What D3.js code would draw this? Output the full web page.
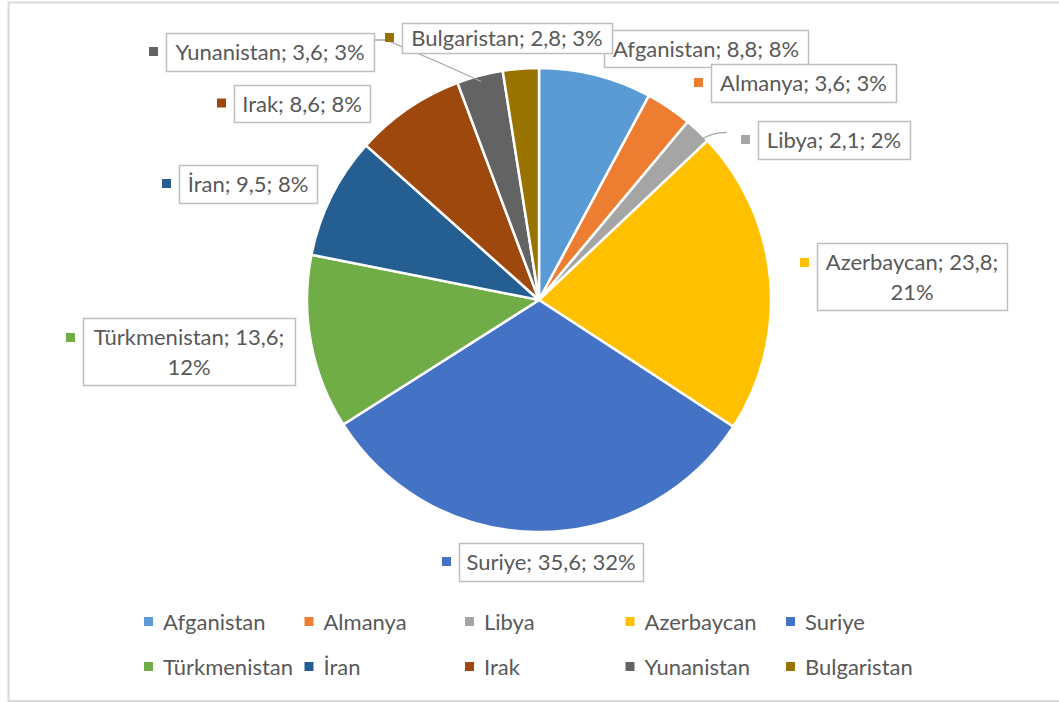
<!DOCTYPE html>
<html>
<head>
<meta charset="utf-8">
<script src="https://cdn.jsdelivr.net/npm/d3@7"></script>
<style>
  body { margin: 0; background: #fff; }
  text { font-family: Lato, "Open Sans", sans-serif; fill: #595959; }
</style>
</head>
<body>
<div class="canvas"></div>
<script>
// data
const countries = ["Afganistan", "Almanya", "Libya", "Azerbaycan", "Suriye", "Türkmenistan", "İran", "Irak", "Yunanistan", "Bulgaristan"];
const values = [8.8, 3.6, 2.1, 23.8, 35.6, 13.6, 9.5, 8.6, 3.6, 2.8];
const percents = ["8%", "3%", "2%", "21%", "32%", "12%", "8%", "8%", "3%", "3%"];
const colors = ["#5B9BD5", "#ED7D31", "#A5A5A5", "#FFC000", "#4472C4", "#70AD47", "#255E91", "#9E480E", "#636363", "#997300"];

// dimensions
const w = 1059;
const h = 702;
const cx = 539, cy = 300, radius = 232;

// label box layout
const labelLayout = [
  { x: 604, y: 30, w: 204, h: 37, two: false },
  { x: 711, y: 64, w: 185, h: 38, two: false },
  { x: 758, y: 121, w: 152, h: 38, two: false },
  { x: 817, y: 243, w: 190, h: 67, two: true },
  { x: 459, y: 543, w: 184, h: 38, two: false },
  { x: 83, y: 318, w: 212, h: 67, two: true },
  { x: 179, y: 165, w: 138, h: 38, two: false },
  { x: 234, y: 85, w: 136, h: 37, two: false },
  { x: 166, y: 33, w: 208, h: 38, two: false },
  { x: 402, y: 23, w: 210, h: 30, two: false },
];
const fontSize = 22;

const svg = d3.select(".canvas").append("svg").attr("width", w).attr("height", h);

// chart border
svg.append("rect")
  .attr("x", 8.5).attr("y", 2.5)
  .attr("width", w).attr("height", h - 3.5)
  .attr("fill", "white")
  .attr("stroke", "#d9d9d9")
  .attr("stroke-width", 2);

const pie = d3.pie().sort(null).value((d) => d);
const arc = d3.arc().innerRadius(0).outerRadius(radius);
const arcs = pie(values);

const graph = svg.append("g").attr("transform", `translate(${cx}, ${cy})`);
graph.selectAll("path")
  .data(arcs)
  .enter()
  .append("path")
  .attr("d", arc)
  .attr("fill", (d, i) => colors[i])
  .attr("stroke", "white")
  .attr("stroke-width", 2.5);

// leader lines (Libya, Yunanistan)
const leaderArc = d3.arc().innerRadius(radius - 6).outerRadius(radius - 6);
const libyaPt = leaderArc.centroid(arcs[2]);
svg.append("path")
  .attr("d", `M${cx + libyaPt[0] + 8},${cy + libyaPt[1] + 4} Q${cx + libyaPt[0] + 18},${cy + libyaPt[1] - 3} ${cx + libyaPt[0] + 33},${cy + libyaPt[1] - 3}`)
  .attr("fill", "none").attr("stroke", "#a6a6a6").attr("stroke-width", 1.3);
const yunPt = leaderArc.centroid(arcs[8]);
svg.append("path")
  .attr("d", `M374,40 L386,40 L438,62 L${cx + yunPt[0]},${cy + yunPt[1]}`)
  .attr("fill", "none").attr("stroke", "#a6a6a6").attr("stroke-width", 1.3);

// data labels
const labels = svg.append("g");
countries.forEach((c, i) => {
  const L = labelLayout[i];
  const g = labels.append("g");
  g.append("rect")
    .attr("x", L.x - 17).attr("y", L.two ? L.y + 15 : L.y + L.h / 2 - 5)
    .attr("width", 9).attr("height", 9)
    .attr("fill", colors[i]);
  g.append("rect")
    .attr("x", L.x + 0.5).attr("y", L.y + 0.5)
    .attr("width", L.w).attr("height", L.h)
    .attr("fill", "white")
    .attr("stroke", "#bfbfbf")
    .attr("stroke-width", 1.5);
  const txt = g.append("text")
    .attr("text-anchor", "middle")
    .attr("font-size", fontSize);
  if (L.two) {
    txt.append("tspan").attr("x", L.x + L.w / 2).attr("y", L.y + 27).text(`${c}; ${String(values[i]).replace(".", ",")};`);
    txt.append("tspan").attr("x", L.x + L.w / 2).attr("y", L.y + 57).text(percents[i]);
  } else {
    txt.attr("x", L.x + L.w / 2).attr("y", L.y + L.h / 2 + 8)
      .text(`${c}; ${String(values[i]).replace(".", ",")}; ${percents[i]}`);
  }
});

// legend
const legendX = d3.scalePoint().domain(d3.range(5)).range([148, 790]);
const legend = svg.append("g");
countries.forEach((c, i) => {
  const col = i % 5, row = Math.floor(i / 5);
  const x = legendX(col), y = 622 + row * 45;
  legend.append("rect").attr("x", x - 4).attr("y", y - 5).attr("width", 9).attr("height", 9).attr("fill", colors[i]);
  legend.append("text").attr("x", x + 15).attr("y", y + 8).attr("font-size", fontSize).text(c);
});
</script>
</body>
</html>
